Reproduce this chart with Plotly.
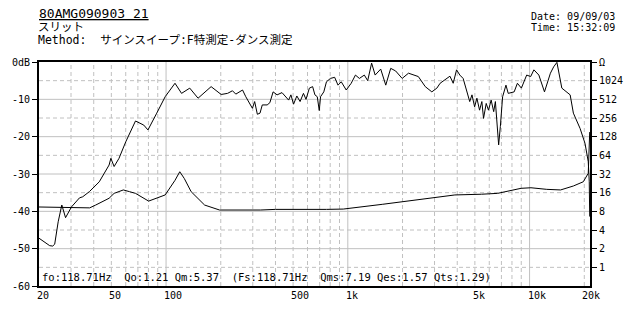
import math
import plotly.graph_objects as go

# ---------------- data ----------------
spl_freq = [20, 22.9, 23.8, 24.4, 25.5, 26.7, 28.0, 30.2, 33.4, 34.8,
            37.9, 42.9, 48.6, 49.7, 51.8, 55.1, 60, 67.9, 75.4, 79.5,
            88.9, 98.9, 112, 121.7, 135, 150, 177, 201,
            218, 232, 242, 263.6, 274.6, 286.4, 298.5, 307.3, 317.9, 328.8,
            338.4, 360, 372.5, 388.2, 408.2, 434.5, 452.8, 472.5, 486.3, 503,
            524.2, 546.3, 570, 588.9, 614.5, 640.4, 659.2, 679.2, 696.4, 707.9,
            737.7, 763, 802.2, 846.4, 883.2, 920.4, 980, 1043.8, 1101.5, 1158,
            1232.6, 1286.3, 1352, 1414,
            1517, 1617, 1722, 1833,
            1991, 2157, 2443, 2667, 2899, 3090, 3219, 3425, 3646, 3800,
            3966, 4133, 4310, 4495, 4685, 4821, 4985, 5131, 5307, 5463,
            5581, 5773, 5942, 6146, 6348, 6485, 6624, 6759, 6904, 7106,
            7414, 7631, 8226, 8571, 9012, 9640, 10139, 10565, 11247, 12078,
            13020, 13570, 14140, 15050, 16720, 17420, 18960, 20180, 21030, 21300,
            21420]
spl_db = [-47.2, -49.2, -49.3, -48.8, -42.8, -38.3, -41.7, -38.8, -36.4, -36.1,
          -34.7, -32.1, -27.6, -25.8, -28.0, -25.8, -21.4, -15.8, -16.9, -18.2,
          -13.7, -9.3, -5.7, -8.4, -7.0, -9.7, -6.6, -8.7,
          -8.4, -7.7, -8.6, -7.5, -9.3, -10.9, -12.4, -10.6, -14.0, -13.7,
          -11.5, -11.5, -10.9, -8.0, -8.8, -8.2, -9.3, -10.2, -8.8, -11.3,
          -9.1, -10.6, -8.4, -10.0, -7.0, -6.6, -8.8, -9.3, -13.0, -9.3,
          -8.0, -5.3, -4.4, -4.1, -6.2, -5.3, -7.5, -5.7, -3.5, -4.4,
          -3.5, -5.0, -0.3, -3.5,
          -1.9, -6.2, -1.7, -2.4,
          -4.4, -3.0, -3.9, -6.6, -8.0, -7.0, -5.7, -4.8, -3.8, -5.7,
          -2.1, -3.5, -4.4, -7.5, -10.6, -8.8, -12.0, -9.7, -12.9, -10.6,
          -15.1, -11.1, -12.9, -10.2, -13.3, -10.6, -15.5, -22.2, -17.3, -9.3,
          -6.2, -8.4, -8.0, -5.7, -7.0, -3.5, -3.9, -2.1, -3.5, -8.0,
          -3.0, -1.3, -0.1, -7.0, -8.8, -13.7, -17.8, -21.8, -26.7, -32.1,
          -41.4]

imp_freq = [20, 38, 41, 48.6, 51.8, 58.2, 63, 67.9, 80.2, 98.9, 112, 119,
            126, 137.4, 163, 197, 330, 400, 763, 944, 1557, 2352,
            3882, 5444, 6675, 8974, 10180, 12430, 14810, 17420, 19750, 21030, 21420]
imp_ohm = [9.4, 9.1, 10.1, 13.0, 15.6, 17.7, 16.6, 15.6, 11.7, 14.7, 25.3, 34.8,
           27.1, 16.6, 10.1, 8.4, 8.4, 8.6, 8.6, 8.7, 10.4, 12.2,
           14.7, 15.1, 15.6, 18.8, 19.2, 18.1, 17.7, 20.5, 24.0, 32.8, 152]

db_ticks = [-60, -50, -40, -30, -20, -10, 0]
db_ticktext = ["-60", "-50", "-40", "-30", "-20", "-10", "0dB"]
ohm_ticks = [1, 2, 4, 8, 16, 32, 64, 128, 256, 512, 1024, 2048]
ohm_ticktext = ["1", "2", "4", "8", "16", "32", "64", "128", "256", "512", "1024", "Ω"]
freq_labels = [20, 50, 100, 500, 1000, 5000, 10000, 20000]
freq_labeltext = ["20", "50", "100", "500", "1k", "5k", "10k", "20k"]
grid_solid_x = [100, 1000, 10000]
grid_dash_x = [30, 40, 50, 60, 70, 80, 90, 200, 300, 400, 500, 600, 700, 800, 900,
               2000, 3000, 4000, 5000, 6000, 7000, 8000, 9000, 20000]
grid_solid_y = [-50, -40, -30, -20, -10]
grid_dash_y = [-55, -45, -35, -25, -15, -5]

title_text = "80AMG090903 21"
sub_text = "スリット"
method_text = "Method:  サインスイープ:F特測定-ダンス測定"
date_text = "Date: 09/09/03"
time_text = "Time: 15:32:09"
param_text = "fo:118.71Hz  Qo:1.21 Qm:5.37  (Fs:118.71Hz  Qms:7.19 Qes:1.57 Qts:1.29)"

# ---------------- layout geometry ----------------
W, H = 635, 317
L, R, T, B = 39, 38, 62, 31
PW, PH = W - L - R, H - T - B

def px(xp):
    return (xp - L) / PW

def py(yp):
    return (H - B - yp) / PH

MONO = "DejaVu Sans Mono, Noto Sans CJK JP"
CJK = "DejaVu Sans Mono, Noto Sans CJK JP"
GRID = "#c0c0c0"

fig = go.Figure()
fig.add_trace(go.Scatter(x=spl_freq, y=spl_db, mode="lines",
                         line=dict(color="black", width=1), yaxis="y", showlegend=False))
fig.add_trace(go.Scatter(x=imp_freq, y=imp_ohm, mode="lines",
                         line=dict(color="black", width=1), yaxis="y2", showlegend=False))

shapes = []
for v in grid_dash_x:
    shapes.append(dict(type="line", xref="x", yref="paper", x0=v, x1=v, y0=0, y1=1,
                       line=dict(color=GRID, width=1, dash="4px,3px"), layer="below"))
for v in grid_solid_x:
    shapes.append(dict(type="line", xref="x", yref="paper", x0=v, x1=v, y0=0, y1=1,
                       line=dict(color=GRID, width=1), layer="below"))
for v in grid_dash_y:
    shapes.append(dict(type="line", xref="paper", yref="y", x0=0, x1=1, y0=v, y1=v,
                       line=dict(color=GRID, width=1, dash="4px,3px"), layer="below"))
for v in grid_solid_y:
    shapes.append(dict(type="line", xref="paper", yref="y", x0=0, x1=1, y0=v, y1=v,
                       line=dict(color=GRID, width=1), layer="below"))

annotations = []
for v, t in zip(freq_labels, freq_labeltext):
    annotations.append(dict(x=math.log10(v), y=0, xref="x", yref="paper", text=t,
                            showarrow=False, xanchor="left", yanchor="top",
                            xshift=-4, yshift=-2, font=dict(family=MONO, size=10, color="black")))

annotations += [
    dict(x=px(37), y=py(13), xref="paper", yref="paper", text="<u>" + title_text + "</u>",
         showarrow=False, xanchor="left", yanchor="middle",
         font=dict(family=MONO, size=13, color="black")),
    dict(x=px(36), y=py(27), xref="paper", yref="paper", text=sub_text,
         showarrow=False, xanchor="left", yanchor="middle",
         font=dict(family=CJK, size=11.5, color="black")),
    dict(x=px(36), y=py(40), xref="paper", yref="paper", text=method_text,
         showarrow=False, xanchor="left", yanchor="middle",
         font=dict(family=CJK, size=11.5, color="black")),
    dict(x=px(624), y=py(16), xref="paper", yref="paper", text=date_text,
         showarrow=False, xanchor="right", yanchor="middle",
         font=dict(family=MONO, size=10, color="black")),
    dict(x=px(624), y=py(27), xref="paper", yref="paper", text=time_text,
         showarrow=False, xanchor="right", yanchor="middle",
         font=dict(family=MONO, size=10, color="black")),
    dict(x=px(40), y=py(277), xref="paper", yref="paper", text=param_text,
         showarrow=False, xanchor="left", yanchor="middle",
         font=dict(family=MONO, size=10.5, color="black")),
]

fig.update_layout(
    width=W, height=H,
    margin=dict(l=L, r=R, t=T, b=B, pad=0),
    paper_bgcolor="white", plot_bgcolor="white",
    showlegend=False,
    xaxis=dict(type="log", range=[math.log10(20), math.log10(21500)],
               showgrid=False, zeroline=False, showticklabels=False, ticks="",
               showline=True, linecolor="black", linewidth=2, mirror=True),
    yaxis=dict(range=[-60, 0], tickvals=db_ticks, ticktext=db_ticktext,
               showgrid=False, zeroline=False, ticks="outside", ticklen=5, tickwidth=1,
               tickcolor="black", showline=True, linecolor="black", linewidth=2,
               tickfont=dict(family=MONO, size=10, color="black")),
    yaxis2=dict(type="log", range=[math.log10(0.5), math.log10(2048)], overlaying="y",
                side="right", tickvals=ohm_ticks, ticktext=ohm_ticktext,
                showgrid=False, zeroline=False, ticks="outside", ticklen=5, tickwidth=1,
                tickcolor="black", showline=True, linecolor="black", linewidth=2,
                tickfont=dict(family=MONO, size=10, color="black")),
    shapes=shapes,
    annotations=annotations,
)

fig.write_html("out.html")
